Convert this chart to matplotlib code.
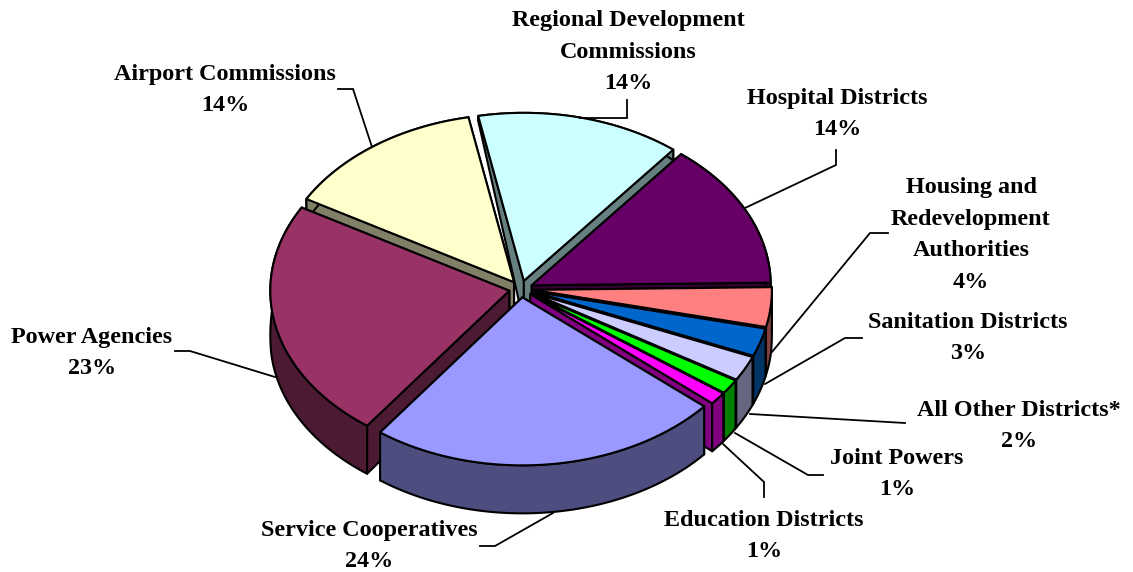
"""
Exploded 3D style pie of district shares, drawn as plain polygons.
"""

import matplotlib
matplotlib.use('Agg')
import matplotlib.pyplot as plt
import numpy as np
from matplotlib.patches import Polygon

plt.rcParams['font.family'] = ['Liberation Serif', 'DejaVu Serif']

# clockwise from the regional commissions slice
names = ['Regional Development\nCommissions', 'Hospital Districts',
         'Housing and\nRedevelopment\nAuthorities', 'Sanitation Districts',
         'All Other Districts*', 'Joint Powers', 'Education Districts',
         'Service Cooperatives', 'Power Agencies', 'Airport Commissions']
shares = [13.8, 14.0, 3.8, 2.7, 2.4, 1.4, 1.2, 23.9, 23.1, 13.7]
share_labels = ['14%', '14%', '4%', '3%', '2%', '1%', '1%', '24%', '23%', '14%']
top_colors = ['#CCFFFF', '#660066', '#FF8080', '#0066CC', '#CCCCFF',
              '#00FF00', '#FF00FF', '#9999FF', '#993366', '#FFFFCC']
side_colors = ['#668080', '#330033', '#804040', '#003366', '#666680',
               '#008000', '#800080', '#4D4D80', '#4D1A33', '#808066']

# label centres and leader lines, in pixels of the 1133x572 picture
label_xy = [(628, 52), (837, 114), (971, 235), (968, 338), (1019, 426),
            (897, 474), (764, 536), (369, 546), (92, 353), (225, 90)]
leaders = [
    [(627, 100), (627, 118), (580, 118)],
    [(836, 150), (836, 165), (745, 208)],
    [(888, 233), (870, 233), (772, 352)],
    [(862, 338), (845, 338), (765, 384)],
    [(905, 423), (750, 414)],
    [(823, 475), (808, 475), (735, 433)],
    [(764, 497), (764, 482), (723, 444)],
    [(480, 546), (495, 546), (553, 513)],
    [(175, 351), (190, 351), (275, 377)],
    [(338, 89), (353, 89), (372, 147)],
]

CX, CY = 521, 289
RX, RY = 239, 168
EXPLODE = 0.05
START_ANGLE = -11.0
PAINT_TURN = 15  # airport slice goes under the regional slice's wall


def depth(y):
    """Wall height on screen, smaller at the back because of the perspective."""
    return np.clip(0.24 * (np.asarray(y, dtype=float) - 105), 5, 48)


def lower(pts):
    """Same points moved down to the bottom face of the pie."""
    out = np.array(pts, dtype=float)
    out[:, 1] = out[:, 1] + depth(out[:, 1])
    return out


fig = plt.figure(figsize=(11.33, 5.72), dpi=100)
ax = fig.add_axes([0, 0, 1, 1])
ax.set_xlim(0, 1133)
ax.set_ylim(572, 0)
ax.set_axis_off()

edges = START_ANGLE + np.concatenate([[0], np.cumsum(shares)]) * 3.6 * 100 / sum(shares)
mids = (edges[:-1] + edges[1:]) / 2

# paint from the back of the pie to the front
for i in sorted(range(len(shares)), key=lambda k: -np.cos(np.radians(mids[k] + PAINT_TURN))):
    m = np.radians(mids[i])
    tip = np.array([CX + EXPLODE * RX * np.sin(m), CY - EXPLODE * RY * np.cos(m)])
    th = np.radians(np.linspace(edges[i], edges[i + 1], 80))
    rim = np.column_stack([tip[0] + RX * np.sin(th), tip[1] - RY * np.cos(th)])
    rim_low = lower(rim)
    tip_low = lower([tip])[0]

    style = dict(edgecolor='black', linewidth=1.5, joinstyle='round')
    # the wall nearer the back goes first so it cannot show over the other one
    ends = sorted([(rim[0], rim_low[0]), (rim[-1], rim_low[-1])], key=lambda e: e[0][1])
    for end, end_low in ends:
        ax.add_patch(Polygon([tip, end, end_low, tip_low], facecolor=side_colors[i], **style))
    ax.add_patch(Polygon(np.vstack([rim, rim_low[::-1]]), facecolor=side_colors[i], **style))
    ax.add_patch(Polygon(np.vstack([[tip], rim]), facecolor=top_colors[i], **style))

for name, pct, (lx, ly), line in zip(names, share_labels, label_xy, leaders):
    xs, ys = zip(*line)
    ax.plot(xs, ys, color='black', linewidth=1.3, solid_joinstyle='miter')
    ax.text(lx, ly, f"{name}\n{pct}", ha='center', va='center', ma='center',
            fontsize=17.4, fontweight='bold', linespacing=1.65, color='black')

fig.savefig('out.png', dpi=100)
